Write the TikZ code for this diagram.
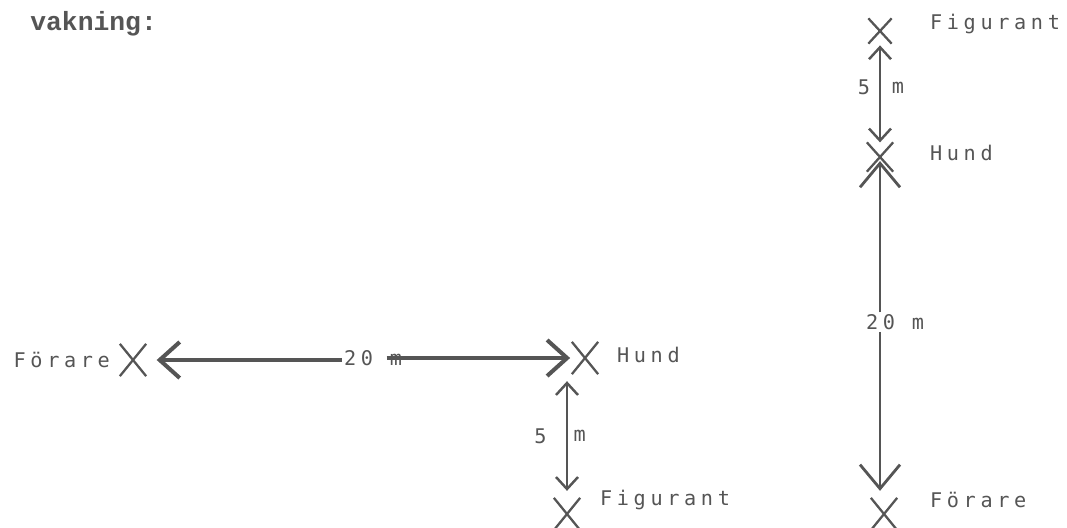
\documentclass[tikz,border=0pt]{standalone}
\usepackage{fontspec}
\newfontfamily\plotfont[LetterSpace=23]{DejaVu Sans Mono}
\newfontfamily\headfont{Liberation Mono}
\usetikzlibrary{arrows.meta,shapes.misc}
\definecolor{ink}{HTML}{555555}

\tikzset{
  crossmark/.style={cross out,draw=ink,line width=1.3pt,minimum width=0.48cm,minimum height=0.6cm,inner sep=0pt},
  lbl/.style={text=ink,font=\plotfont\fontsize{11.5}{13}\selectfont,inner sep=1pt},
  thinarrow/.style={draw=ink,line width=1.4pt,{Straight Barb[length=0.24cm,width=0.44cm]}-{Straight Barb[length=0.24cm,width=0.44cm]}},
  boldarrow/.style={draw=ink,line width=2.3pt,-{Straight Barb[length=0.4cm,width=0.72cm]}},
  bigarrow/.style={draw=ink,line width=1.6pt,-{Straight Barb[length=0.48cm,width=0.8cm]}}
}

\begin{document}
\begin{tikzpicture}[x=0.02cm,y=-0.02cm]
	\useasboundingbox (0,0) rectangle (1067,527);

	\node[anchor=base west,text=ink,inner sep=0pt,font=\headfont\bfseries\fontsize{15}{17}\selectfont] (head) at (30,31) {vakning:};

	% left figure
	\node[crossmark] (forare1) at (133,360) {};
	\node[crossmark] (hund1) at (585,358) {};
	\node[crossmark] (fig1) at (567,514) {};
	\node[lbl] (dist1) at (373,358) {20 m};

	\node[lbl,anchor=east] at (112,360) {Förare};
	\node[lbl,anchor=west] at (615,355) {Hund};
	\node[lbl,anchor=west] at (598,500) {Figurant};

	\draw[boldarrow,shorten >=6pt] (dist1.west |- forare1) -- (forare1);
	\draw[boldarrow,shorten <=-10pt,shorten >=1pt] (dist1.east |- hund1) -- (hund1);
	\draw[thinarrow,shorten <=4pt,shorten >=4pt] (fig1 |- hund1.south) -- (fig1)
		node[lbl,midway,left=10pt] {5} node[lbl,midway,right=2pt] {m};

	% right figure
	\node[crossmark,minimum width=0.42cm,minimum height=0.46cm] (fig2) at (880,31) {};
	\node[crossmark,minimum height=0.54cm] (hund2) at (880,157) {};
	\node[crossmark] (forare2) at (884,514) {};
	\node[lbl] (dist2) at (895,322) {20 m};

	\node[lbl,anchor=west] at (928,24) {Figurant};
	\node[lbl,anchor=west] at (928,153) {Hund};
	\node[lbl,anchor=west] at (928,500) {Förare};

	\draw[thinarrow,shorten <=1pt,shorten >=0pt] (fig2) -- (hund2)
		node[lbl,midway,left=4pt,yshift=3pt] {5} node[lbl,midway,right=5pt,yshift=3pt] {m};
	\draw[bigarrow,shorten >=-6pt] (hund2 |- dist2.north) -- (hund2);
	\draw[bigarrow,shorten >=4pt] (hund2 |- dist2.south) -- (hund2 |- forare2.north);
\end{tikzpicture}
\end{document}
